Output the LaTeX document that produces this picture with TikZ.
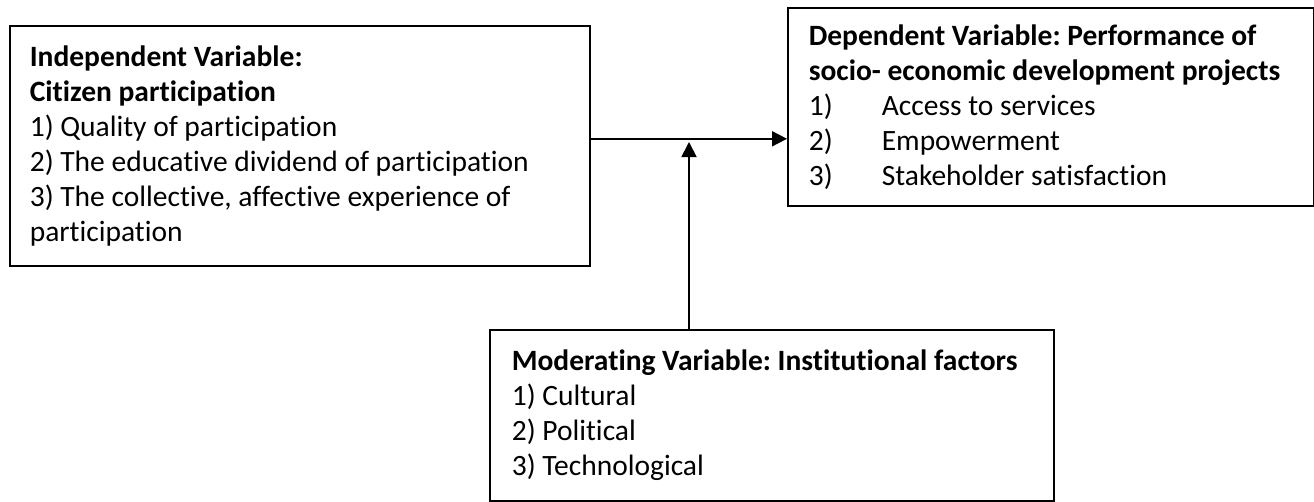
\documentclass[tikz,border=0pt]{standalone}
\usepackage{fontspec}
\setmainfont{Carlito}[Ligatures=NoCommon]
\usetikzlibrary{arrows.meta}

\begin{document}
\begin{tikzpicture}[x=1pt,y=-1pt,
		box/.style={draw,line width=1.6pt,anchor=north west,align=left,inner xsep=20pt,inner ysep=0pt,font=\fontsize{29.5}{35}\selectfont\frenchspacing,
			execute at begin node={\spaceskip=0pt\xspaceskip=0pt\relax}},
		flow/.style={line width=1.8pt,-{Triangle[length=15pt,width=15pt]}}]
		\useasboundingbox (0,0) rectangle (1314,501);
		\node[box,text width=540pt,minimum height=240pt] (IV) at (9,25) {\textbf{Independent Variable:}\\\textbf{Citizen participation}\\1) Quality of participation\\2) The educative dividend of participation\\3) The collective, affective experience of\\participation};
		\node[box,inner xsep=21pt,text width=484pt,minimum height=198pt] (DV) at (787,7) {\textbf{Dependent Variable: Performance of}\\\textbf{socio- economic development projects}\\\makebox[73pt][l]{1)}Access to services\\\makebox[73pt][l]{2)}Empowerment\\\makebox[73pt][l]{3)}Stakeholder satisfaction};
		\node[box,inner xsep=22pt,text width=520pt,minimum height=171pt] (MV) at (489,329) {\textbf{Moderating Variable: Institutional factors}\\1) Cultural\\2) Political\\3) Technological};
		\coordinate (meet) at (689,142);
		\draw[flow] ([yshift=7pt]IV.east) -- ([yshift=7pt]IV.east -| DV.west);
		\draw[flow] (MV.north -| meet) -- (meet);
	\end{tikzpicture}
\end{document}
